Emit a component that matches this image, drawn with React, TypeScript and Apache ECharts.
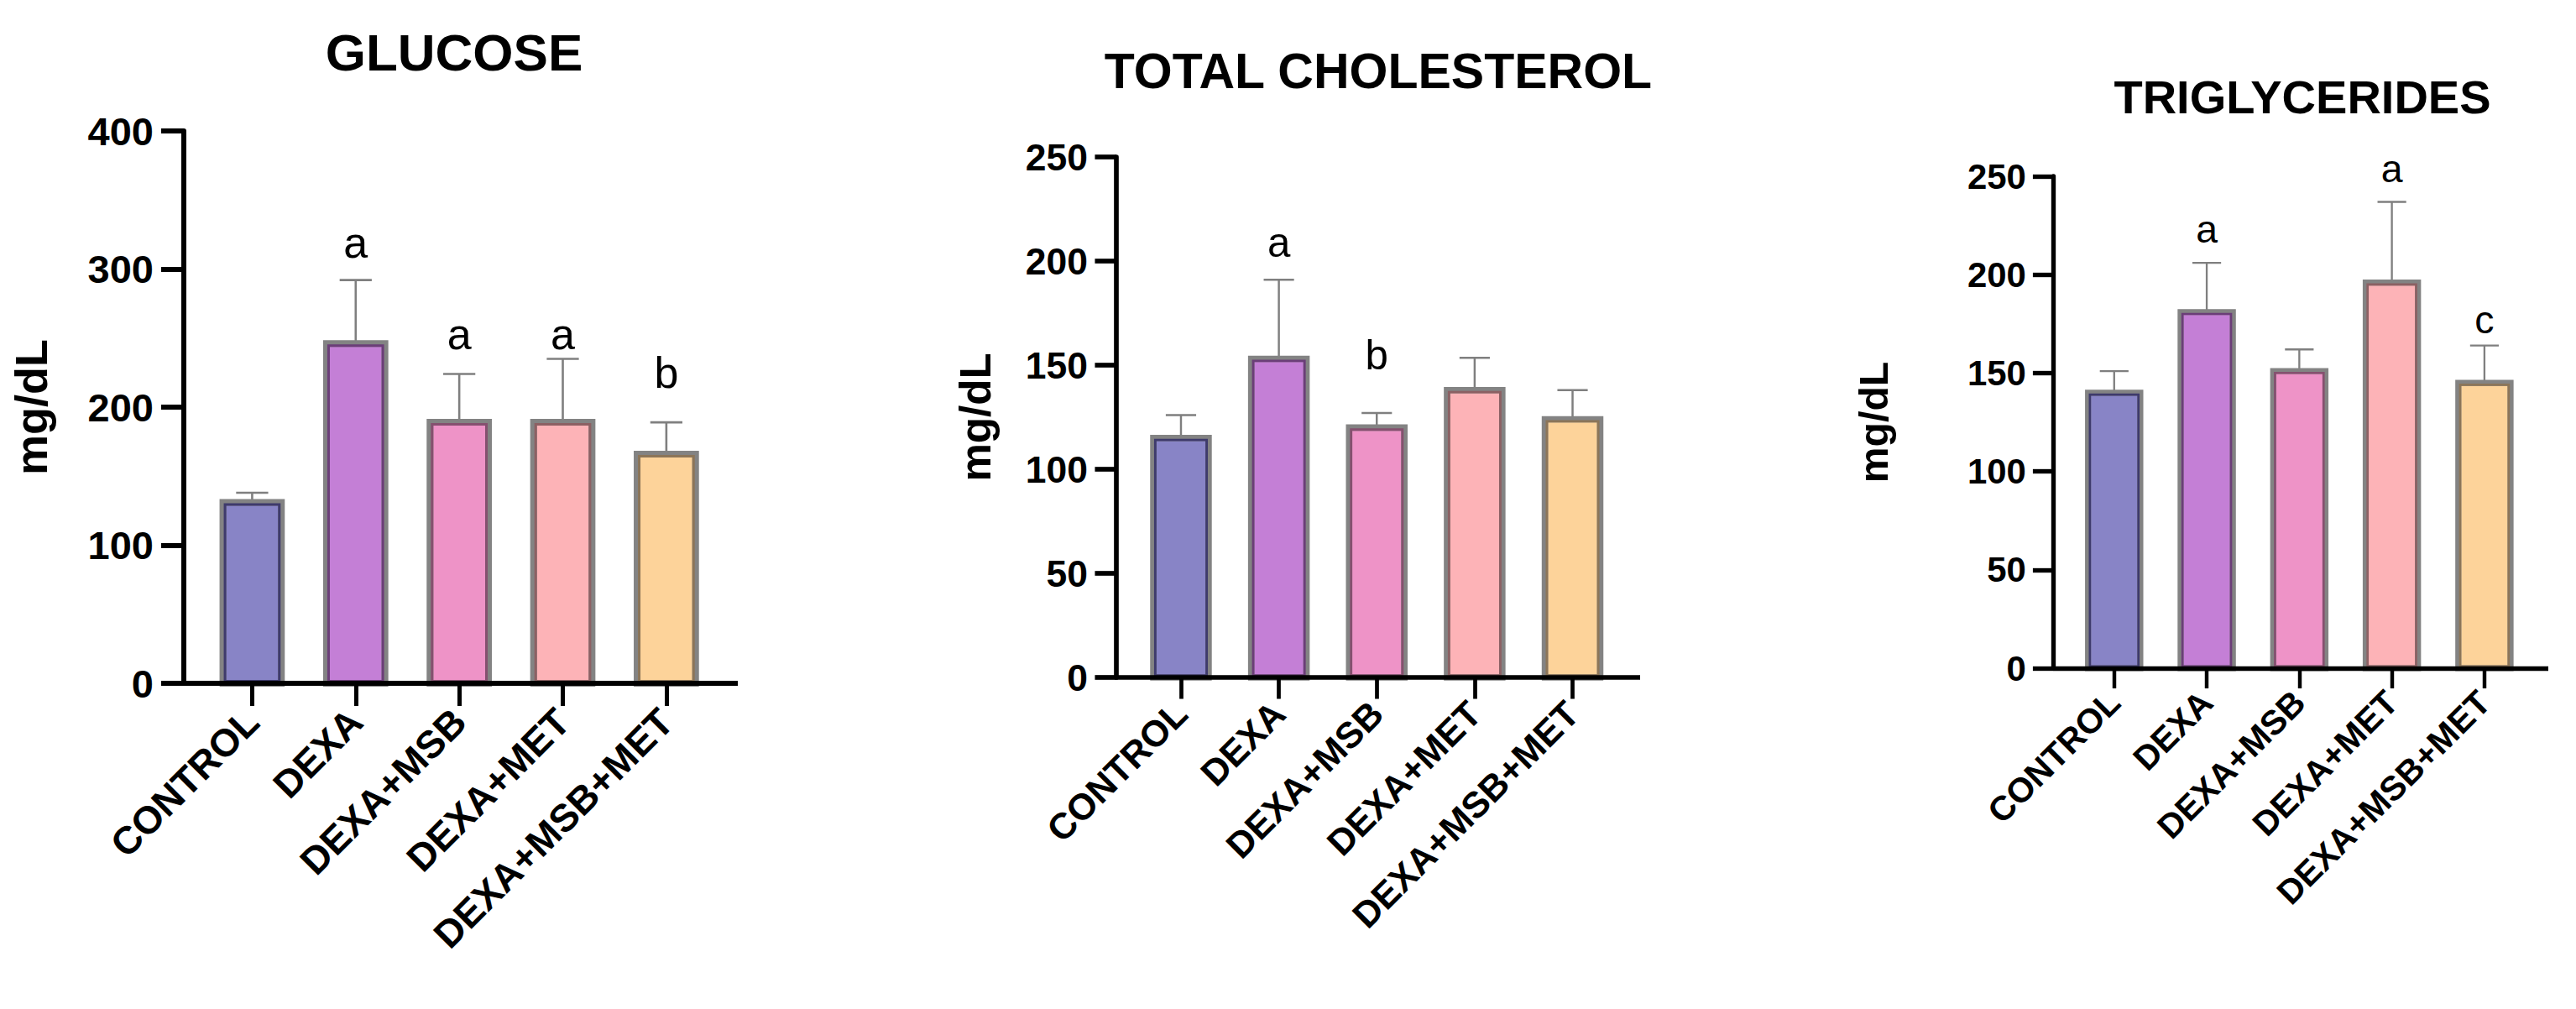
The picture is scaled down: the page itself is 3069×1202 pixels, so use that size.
import React, { useEffect, useRef } from 'react';
import * as echarts from 'echarts';

const categories = ['CONTROL', 'DEXA', 'DEXA+MSB', 'DEXA+MET', 'DEXA+MSB+MET'];
const categoryIndex = [0, 1, 2, 3, 4];

const glucoseMean = [131, 246, 189, 189, 166];
const glucoseSdTop = [138, 292, 224, 235, 189];
const glucoseLetters = ['', 'a', 'a', 'a', 'b'];
const glucoseLetterY = [0, 319, 253, 253, 225];

const cholMean = [115, 153, 120, 138, 124];
const cholSdTop = [126, 191, 127, 153.5, 138];
const cholLetters = ['', 'a', 'b', '', ''];
const cholLetterY = [0, 209, 155, 0, 0];

const trigMean = [140, 181, 151, 196, 145];
const trigSdTop = [151, 206, 162, 237, 164];
const trigLetters = ['', 'a', '', 'a', 'c'];
const trigLetterY = [0, 223, 0, 254, 177];

const titles = ['GLUCOSE', 'TOTAL CHOLESTEROL', 'TRIGLYCERIDES'];
const yMax = [400, 250, 250];
const yStep = [100, 50, 50];
const yName = 'mg/dL';

const fills = ['#8884C6', '#C47FD6', '#EE93C7', '#FDB3B7', '#FDD39A'];
const innerLines = ['#3E3A6C', '#6B3E78', '#85506F', '#8C6063', '#8C7558'];
const FONT = '"Liberation Sans", Arial, Helvetica, sans-serif';

const panels = [
  { mean: glucoseMean, sd: glucoseSdTop, letters: glucoseLetters, letterY: glucoseLetterY },
  { mean: cholMean, sd: cholSdTop, letters: cholLetters, letterY: cholLetterY },
  { mean: trigMean, sd: trigSdTop, letters: trigLetters, letterY: trigLetterY },
];

const layout = [
  { left: 219, top: 156, width: 660, height: 658, s: 1, titleX: 541, titleY: 62, titleSize: 62, nameGap: 155 },
  { left: 1330, top: 187, width: 624, height: 620, s: 0.946, titleX: 1642, titleY: 85, titleSize: 59, nameGap: 142 },
  { left: 2446, top: 210, width: 590, height: 586, s: 0.892, titleX: 2743, titleY: 115, titleSize: 56, nameGap: 190 },
];

function buildOption() {
  const grid: any[] = [];
  const xAxis: any[] = [];
  const yAxis: any[] = [];
  const series: any[] = [];
  const graphic: any[] = [];

  panels.forEach((p, k) => {
    const L = layout[k];
    const s = L.s;
    grid.push({ left: L.left, top: L.top, width: L.width, height: L.height, containLabel: false });
    xAxis.push({
      type: 'value',
      gridIndex: k,
      min: -0.66,
      max: 4.69,
      z: 5,
      axisLine: { show: true, onZero: false, lineStyle: { color: '#000', width: 6 * s, cap: 'butt' } },
      axisTick: { show: true, customValues: categoryIndex, length: 27 * s, lineStyle: { color: '#000', width: 5 * s } },
      axisLabel: {
        show: true,
        customValues: categoryIndex,
        formatter: (v: number) => categories[Math.round(v)] ?? '',
        rotate: 45,
        fontSize: 46 * s,
        fontWeight: 'bold',
        fontFamily: FONT,
        color: '#000',
        margin: 38 * s,
      },
      splitLine: { show: false },
    });
    yAxis.push({
      type: 'value',
      gridIndex: k,
      min: 0,
      max: yMax[k],
      interval: yStep[k],
      z: 5,
      axisLine: { show: true, onZero: false, lineStyle: { color: '#000', width: 6 * s } },
      axisTick: { show: true, length: 27 * s, lineStyle: { color: '#000', width: 6 * s } },
      axisLabel: { fontSize: 47 * s, fontWeight: 'bold', fontFamily: FONT, color: '#000', margin: 36 * s },
      splitLine: { show: false },
      name: yName,
      nameLocation: 'middle',
      nameRotate: 90,
      nameGap: L.nameGap,
      nameTextStyle: { fontSize: 54 * s, fontWeight: 'bold', fontFamily: FONT, color: '#000' },
    });
    const data = categoryIndex.map((i) => [i, p.mean[i], p.sd[i], p.letterY[i]]);
    series.push({
      type: 'custom',
      xAxisIndex: k,
      yAxisIndex: k,
      clip: false,
      z: 2,
      data,
      renderItem: (params: any, api: any) => {
        const idx = params.dataIndex;
        const i = api.value(0);
        const base = api.coord([i, 0]);
        const top = api.coord([i, api.value(1)]);
        const err = api.coord([i, api.value(2)]);
        const band = api.size([1, 0])[0];
        const w = band * 0.565;
        const cap = band * 0.31;
        const x0 = base[0] - w / 2;
        const h = base[1] - top[1];
        const children: any[] = [
          {
            type: 'line',
            shape: { x1: top[0], y1: top[1], x2: err[0], y2: err[1] },
            style: { stroke: '#7F7F7F', lineWidth: 2.6 * s },
          },
          {
            type: 'line',
            shape: { x1: err[0] - cap / 2, y1: err[1], x2: err[0] + cap / 2, y2: err[1] },
            style: { stroke: '#7F7F7F', lineWidth: 2.6 * s },
          },
          {
            type: 'rect',
            shape: { x: x0, y: top[1], width: w, height: h },
            style: { fill: fills[idx], stroke: '#838383', lineWidth: 8 * s },
          },
          {
            type: 'rect',
            shape: { x: x0 + 2.5 * s, y: top[1] + 2.5 * s, width: w - 5 * s, height: h - 5 * s },
            style: { fill: 'none', stroke: innerLines[idx], lineWidth: 3 * s },
          },
        ];
        const letter = p.letters[idx];
        if (letter) {
          const lp = api.coord([i, api.value(3)]);
          children.push({
            type: 'text',
            x: lp[0],
            y: lp[1],
            style: {
              text: letter,
              fontSize: 52 * s,
              fontFamily: FONT,
              fill: '#000',
              align: 'center',
              verticalAlign: 'middle',
            },
          });
        }
        return { type: 'group', children };
      },
    });
    graphic.push({
      type: 'text',
      x: L.titleX,
      y: L.titleY,
      style: {
        text: titles[k],
        fontSize: L.titleSize,
        fontWeight: 'bold',
        fontFamily: FONT,
        fill: '#000',
        align: 'center',
        verticalAlign: 'middle',
        textAlign: 'center',
        textVerticalAlign: 'middle',
      },
    });
  });

  return {
    animation: false,
    backgroundColor: '#fff',
    grid,
    xAxis,
    yAxis,
    series,
    graphic,
  };
}

export default function App() {
  const ref = useRef<HTMLDivElement>(null);
  useEffect(() => {
    if (!ref.current) return;
    const chart = echarts.init(ref.current, null, { renderer: 'svg' });
    chart.setOption(buildOption() as any);
    return () => chart.dispose();
  }, []);
  return (
    <div
      ref={ref}
      style={{ position: 'fixed', left: 0, top: 0, width: 3069, height: 1202, background: '#fff' }}
    />
  );
}
